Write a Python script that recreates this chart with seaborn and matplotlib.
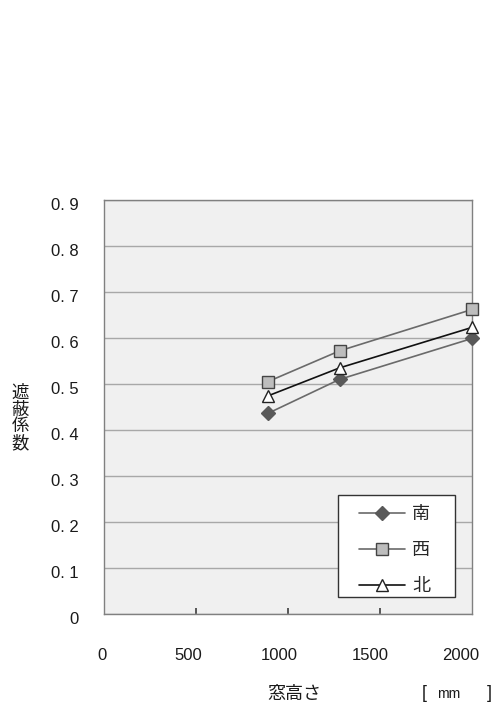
import matplotlib
matplotlib.use("Agg")
import matplotlib.pyplot as plt
import matplotlib.transforms as mtrans
from matplotlib.patches import Rectangle
import seaborn as sns
import pandas as pd
from matplotlib.ticker import FixedLocator, FuncFormatter

sns.set_theme(style="white")
FAM = ['Liberation Sans', 'Noto Sans CJK JP', 'DejaVu Sans']
plt.rcParams['font.family'] = FAM

heights = [890, 1280, 2000]
south = [0.436, 0.510, 0.599]
west = [0.505, 0.572, 0.662]
north = [0.474, 0.535, 0.623]
series_names = ["南", "西", "北"]
y_ticks = [0, 0.1, 0.2, 0.3, 0.4, 0.5, 0.6, 0.7, 0.8, 0.9]
x_ticks = [0, 500, 1000, 1500, 2000]

df = pd.DataFrame({
    "h": heights * 3,
    "v": south + west + north,
    "s": [series_names[0]] * 3 + [series_names[1]] * 3 + [series_names[2]] * 3,
})

W, H = 495, 707
fig = plt.figure(figsize=(W / 100, H / 100), dpi=100)
ax = fig.add_axes([104/W, 1 - 614/H, (472-104)/W, (614-200)/H])
ax.set_facecolor("#f0f0f0")

styles = {
    "南": dict(color="#6a6a6a", marker="D", mfc="#595959", mec="#595959", ms=6.8),
    "西": dict(color="#6a6a6a", marker="s", mfc="#bdbdbd", mec="#444444", ms=9),
    "北": dict(color="#111111", marker="^", mfc="white", mec="#222222", ms=8.8),
}
for name in series_names:
    sub = df[df.s == name]
    st = styles[name]
    sns.lineplot(data=sub, x="h", y="v", ax=ax, color=st["color"], lw=1.2,
                 marker=st["marker"], markerfacecolor=st["mfc"],
                 markeredgecolor=st["mec"], markersize=st["ms"],
                 markeredgewidth=1.0, label=name, zorder=3, clip_on=False)

ax.set_xlim(0, 2000)
ax.set_ylim(0, 0.9)
ax.yaxis.set_major_locator(FixedLocator(y_ticks))
ax.xaxis.set_major_locator(FixedLocator(x_ticks))
ax.yaxis.set_major_formatter(FuncFormatter(lambda v, p: "0" if v == 0 else f"{v:.1f}".replace(".", ". ")))
ax.grid(axis="y", color="#a8a8a8", lw=1.0)
ax.grid(axis="x", visible=False)
for sp in ax.spines.values():
    sp.set_color("#808080")
    sp.set_linewidth(1.0)
ax.tick_params(axis="x", direction="in", length=4, color="#444444", pad=24.5, labelsize=12, bottom=True)
ax.tick_params(axis="y", length=0, pad=18.5, labelsize=12, left=False)
xt = ax.xaxis.get_major_ticks()
for i in (0, len(xt) - 1):
    xt[i].tick1line.set_visible(False)

fig.canvas.draw()
x_shift = {0: -2, 500: -8, 1000: -9, 1500: -10, 2000: -11}
for lab, v in zip(ax.get_xticklabels(), x_ticks):
    lab.set_color("#1a1a1a")
    lab.set_transform(lab.get_transform() + mtrans.ScaledTranslation(x_shift[v] / 100, 0, fig.dpi_scale_trans))
for lab in ax.get_yticklabels():
    lab.set_color("#1a1a1a")
    lab.set_transform(lab.get_transform() + mtrans.ScaledTranslation(0, -4 / 100, fig.dpi_scale_trans))
ax.set_xlabel("")
ax.set_ylabel("")

fig.text(294.5/W, 1 - 694/H, "窓高さ", ha="center", va="center", fontsize=13, color="#1a1a1a")
fig.text(424.5/W, 1 - 694/H, "[", ha="center", va="center", fontsize=13, color="#1a1a1a")
fig.text(449/W, 1 - 694/H, "mm", ha="center", va="center", fontsize=10, color="#1a1a1a")
fig.text(489.5/W, 1 - 694/H, "]", ha="center", va="center", fontsize=13, color="#1a1a1a")
fig.text(20/W, 1 - 418/H, "遮\n蔽\n係\n数", ha="center", va="center", fontsize=12.5,
         color="#1a1a1a", linespacing=1.05)

# legend box
box = Rectangle((338/W, 1 - 597/H), (455-338)/W, (597-495)/H, transform=fig.transFigure,
                facecolor="white", edgecolor="#333333", lw=1.0, zorder=4)
ax.add_patch(box)
leg = ax.legend(loc="upper left", bbox_to_anchor=(359/W, 1 - 506/H), bbox_transform=fig.transFigure,
                frameon=False, fontsize=13, handlelength=2.55, labelspacing=1.05, borderpad=0,
                handletextpad=0.38, borderaxespad=0)
leg.set_zorder(5)

fig.savefig("out.png", dpi=100)
